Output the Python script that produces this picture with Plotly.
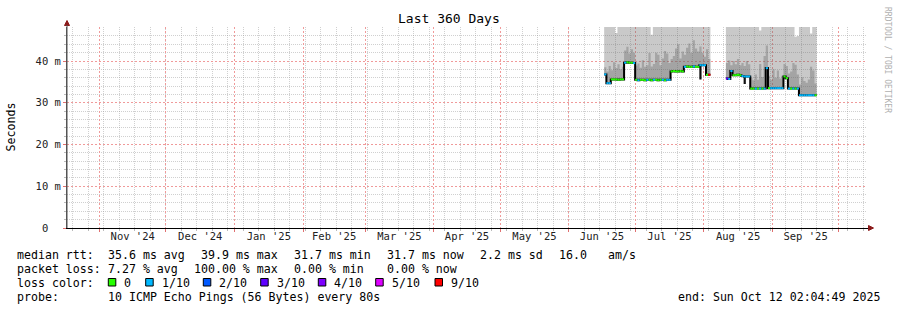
import pandas as pd
import plotly.graph_objects as go

# ---------------- data ----------------
TITLE = "Last 360 Days"
END_TIME = pd.Timestamp("2025-10-12 02:04:49")
SPAN_DAYS = 360

# block 1: daily bins starting 2025-06-17
block1_start = "2025-06-17"
median1 = [36.8, 34.7, 34.7, 35.6, 35.6, 35.6, 35.5, 35.6, 35.6, 39.6, 39.7, 39.6, 39.6, 39.5,
           35.5, 35.4, 35.5, 35.5, 35.4, 35.5, 35.5, 35.4, 35.5, 35.5, 35.4, 35.5, 35.5, 35.4, 35.5, 35.5,
           37.5, 37.6, 37.5, 37.5, 37.6, 37.5,
           38.6, 38.7, 38.6, 38.6, 38.7, 38.6, 38.6,
           39.0, 39.0, 39.0, 36.7, 36.7]
loss1 = [1, 1, 1, 0, 0, 0, 0, 0, 0, 1, 0, 0, 0, 1,
         0, 1, 0, 0, 0, 1, 0, 0, 1, 0, 0, 0, 1, 0, 1, 1,
         0, 0, 0, 0, 0, 0,
         1, 0, 0, 0, 1, 0, 0,
         1, 1, 1, 0, 6]
dark1 = [38.5, 37.5, 38.8, 37.8, 39.7, 38.3, 39.2, 38.0, 38.6, 42.5, 43.4, 41.8, 42.8, 42.0,
         38.9, 39.4, 38.4, 40.2, 38.6, 39.0, 41.9, 38.7, 39.3, 42.0, 41.5, 39.0, 40.6, 42.4, 41.8, 39.5,
         40.5, 41.2, 43.0, 44.0, 40.6, 42.3,
         41.5, 43.2, 44.2, 42.0, 45.0, 43.0, 42.3,
         43.5, 42.0, 41.0, 42.8, 40.5]
top1 = [48.5, 48.5, 48.5, 48.5, 48.5, 46.7, 48.5, 48.5, 48.5, 48.5, 48.5, 48.5, 48.5, 48.5,
        48.5, 48.5, 48.5, 48.5, 48.5, 48.5, 48.5, 46.3, 48.5, 48.5, 48.5, 48.5, 48.5, 48.5, 48.5, 48.5,
        48.5, 48.5, 48.5, 48.5, 48.5, 48.5,
        48.5, 48.5, 48.5, 48.5, 48.5, 48.5, 48.5,
        48.5, 48.5, 48.5, 48.5, 48.5]
low1 = [None] * 43 + [35.6] + [None] * 4

# block 2: daily bins starting 2025-08-11
block2_start = "2025-08-11"
median2 = [35.8, 35.7, 37.6, 36.6, 36.6, 36.7, 36.6, 36.4, 36.3, 36.3, 36.3,
           33.4, 33.4, 33.4, 33.4, 33.4, 33.4, 33.4, 38.3, 33.5, 33.5,
           33.5, 33.5, 33.5, 33.5, 33.5, 36.3, 35.9, 33.4, 33.4, 33.4, 33.4, 33.4,
           31.8, 31.8, 31.8, 31.8, 31.8, 31.8, 31.8, 31.8]
loss2 = [3, 1, 1, 0, 0, 0, 0, 1, 1, 1, 1,
         0, 0, 1, 0, 1, 0, 1, 1, 0, 1,
         1, 1, 1, 1, 1, 0, 0, 1, 0, 1, 0, 1,
         1, 1, 1, 1, 1, 1, 1, 0]
dark2 = [39.5, 40.1, 39.0, 40.0, 39.2, 40.5, 39.0, 39.5, 38.8, 40.0, 39.2,
         36.0, 35.4, 36.8, 35.5, 39.3, 36.2, 41.2, 43.7, 36.5, 35.5,
         38.0, 36.0, 37.7, 35.8, 36.5, 39.3, 38.8, 37.0, 37.5, 39.5, 39.1, 36.8,
         34.4, 36.1, 35.2, 34.8, 35.6, 38.6, 37.7, 34.6]
top2 = [48.5] * 15 + [47.3] + [48.5] * 15 + [45.8, 46.0] + [48.5] * 5 + [46.6] + [48.5] * 2
low2 = [None] * 8 + [34.5] + [None] * 32

loss_colors = ["#26ff00", "#00b8ff", "#0059ff", "#5e00ff", "#7e00ff", "#dd00ff", "#ff0000"]
loss_labels = ["0", "1/10", "2/10", "3/10", "4/10", "5/10", "9/10"]

y_tickvals = [0, 10, 20, 30, 40]
y_ticktext = ["0\u00a0\u00a0", "10 m", "20 m", "30 m", "40 m"]

rtt_items = ["median rtt:", "35.6 ms avg", "39.9 ms max", "31.7 ms min", "31.7 ms now",
             "2.2 ms sd", "16.0", "am/s"]
loss_items = ["packet loss:", "7.27 % avg", "100.00 % max", "0.00 % min", "0.00 % now"]
probe_items = ["probe:", "10 ICMP Echo Pings (56 Bytes) every 80s"]
end_text = "end: Sun Oct 12 02:04:49 2025"

# ---------------- layout geometry ----------------
W, H = 897, 310
ML, MR, MT, MB = 67, 30, 27, 82
PW, PH = W - ML - MR, H - MT - MB
PX_PER_DAY = 2.2134
x_origin = END_TIME - pd.Timedelta(days=SPAN_DAYS)
x0 = x_origin + pd.Timedelta(days=(ML - 66.5) / PX_PER_DAY)
x1 = x0 + pd.Timedelta(days=PW / PX_PER_DAY)
Y_MAX = 48.15

def px(p):
    return (p - ML) / PW

def py(p):
    return (MT + PH - p) / PH

MONO = "DejaVu Sans Mono"
LIGHT = "rgba(100,100,100,0.35)"
DARK = "rgba(100,100,100,0.37)"
fig = go.Figure()

def stepped(start, vals):
    d = list(pd.date_range(start, periods=len(vals) + 1, freq="D"))
    return d, list(vals) + [vals[-1]]

blocks = [(block1_start, median1, loss1, dark1, top1, low1),
          (block2_start, median2, loss2, dark2, top2, low2)]

base = dict(mode="lines", line=dict(width=0, shape="hv"), hoverinfo="skip", showlegend=False)
black_x, black_y = [], []
seg = {i: ([], []) for i in range(len(loss_colors))}
for start, med, loss, dark, top, low in blocks:
    x, m = stepped(start, med)
    _, t = stepped(start, top)
    _, dk = stepped(start, dark)
    _, lo = stepped(start, [l if l is not None else mm for l, mm in zip(low, med)])
    fig.add_trace(go.Scatter(x=x, y=m, **base))
    fig.add_trace(go.Scatter(x=x, y=t, fill="tonexty", fillcolor=LIGHT, **base))
    fig.add_trace(go.Scatter(x=x, y=m, **base))
    fig.add_trace(go.Scatter(x=x, y=dk, fill="tonexty", fillcolor=DARK, **base))
    fig.add_trace(go.Scatter(x=x, y=lo, **base))
    fig.add_trace(go.Scatter(x=x, y=m, fill="tonexty", fillcolor="#111111", **base))
    black_x += x + [None]
    black_y += m + [None]
    for i, (v, c) in enumerate(zip(med, loss)):
        seg[c][0].extend([x[i], x[i + 1], None])
        seg[c][1].extend([v, v, None])

fig.add_trace(go.Scatter(x=black_x, y=black_y, mode="lines", connectgaps=False,
                         line=dict(color="#000000", width=2, shape="hv"),
                         hoverinfo="skip", showlegend=False))
for c, (sx, sy) in seg.items():
    if sx:
        fig.add_trace(go.Scatter(x=sx, y=sy, mode="lines", connectgaps=False,
                                 line=dict(color=loss_colors[c], width=2),
                                 hoverinfo="skip", showlegend=False))

# month label axis
month_starts = pd.date_range("2024-11-01", "2025-10-01", freq="MS")
month_mids = [s + (e - s) / 2 for s, e in zip(month_starts[:-1], month_starts[1:])]
month_text = [m.strftime("%b '%y") for m in month_starts[:-1]]
weeks = pd.date_range("2024-10-20", "2025-10-13", freq="7D")
y_minor = [v for v in range(2, 48, 2) if v % 10]

fig.add_trace(go.Scatter(x=[month_mids[0]], y=[0], xaxis="x2", mode="markers",
                         marker=dict(opacity=0), hoverinfo="skip", showlegend=False))

RED_GRID = "#f09a9a"
GREY_GRID = "rgba(150,150,150,0.45)"
DOTS = "1px,1px"
RDOTS = "2px,2px"

fig.update_layout(
    width=W, height=H,
    margin=dict(l=ML, r=MR, t=MT, b=MB, pad=0),
    paper_bgcolor="white", plot_bgcolor="white",
    font=dict(family=MONO, size=11.6, color="#000"),
    xaxis=dict(type="date", range=[x0, x1], tickmode="array", tickvals=list(month_starts),
               showticklabels=False, ticks="outside", ticklen=3, tickcolor="#e07070",
               showgrid=True, gridcolor=RED_GRID, griddash=RDOTS, gridwidth=1,
               minor=dict(tickmode="array", tickvals=list(weeks), showgrid=True,
                          gridcolor=GREY_GRID, griddash=DOTS, ticks="outside",
                          ticklen=2, tickcolor="#bbbbbb"),
               showline=True, linecolor="#000", linewidth=1, zeroline=False),
    xaxis2=dict(type="date", overlaying="x", matches="x", anchor="y", side="bottom",
                tickmode="array", tickvals=month_mids, ticktext=month_text,
                showgrid=False, ticks="", showline=False, zeroline=False,
                tickfont=dict(family=MONO, size=10.5, color="#222")),
    yaxis=dict(range=[0, Y_MAX], tickmode="array", tickvals=y_tickvals, ticktext=y_ticktext,
               ticks="outside", ticklen=3, tickcolor="#e07070",
               showgrid=True, gridcolor=RED_GRID, griddash=RDOTS, gridwidth=1,
               minor=dict(tickmode="array", tickvals=y_minor, showgrid=True,
                          gridcolor=GREY_GRID, griddash=DOTS, ticks="outside",
                          ticklen=2, tickcolor="#bbbbbb"),
               showline=True, linecolor="#555", linewidth=1, zeroline=False,
               tickfont=dict(family=MONO, size=10.5, color="#222")),
)

ann = []
def text(p_x, p_y, s, anchor="left", size=11.6, color="#000", angle=0, yanchor="middle"):
    ann.append(dict(x=px(p_x), y=py(p_y), xref="paper", yref="paper", text=s,
                    showarrow=False, xanchor=anchor, yanchor=yanchor, textangle=angle,
                    borderpad=0, font=dict(family=MONO, size=size, color=color)))

text(448.5, 19, TITLE, anchor="center", size=13)
text(10, 127.5, "Seconds", anchor="center", angle=-90)
text(888, 60, "RRDTOOL / TOBI OETIKER", anchor="center", size=8, color="#b0b0b0", angle=90)

rtt_x = [16, 107.3, 200, 293.3, 386, 479.3, 558.3, 607.3]
for xx, s in zip(rtt_x, rtt_items):
    text(xx, 255, s.replace(" ", "\u00a0"))
loss_x = [16, 107.3, 193.3, 293.3, 386]
for xx, s in zip(loss_x, loss_items):
    text(xx, 268.7, s.replace(" ", "\u00a0"))
text(16, 282.6, "loss\u00a0color:")
sq_x = [108.3, 145.7, 203.3, 260.7, 318.3, 375.7, 435]
shapes = []
for xx, col, lab in zip(sq_x, loss_colors, loss_labels):
    shapes.append(dict(type="rect", xref="paper", yref="paper",
                       x0=px(xx), x1=px(xx + 7.5), y0=py(286), y1=py(278.5),
                       fillcolor=col, line=dict(color="#000", width=1)))
    text(xx + 15, 282.6, lab)
for xx, s in zip([16, 107.3], probe_items):
    text(xx, 297, s.replace(" ", "\u00a0"))
text(880.5, 297, end_text.replace(" ", "\u00a0"), anchor="right")

# axis arrows
AR = "#8b1a1a"
shapes.append(dict(type="path", xref="paper", yref="paper", fillcolor=AR, line=dict(color=AR, width=1),
                   path=f"M {px(64.5)} {py(25.5)} L {px(69.5)} {py(25.5)} L {px(67)} {py(20.5)} Z"))
shapes.append(dict(type="line", xref="paper", yref="paper", x0=px(67), x1=px(67), y0=py(228), y1=py(25),
                   line=dict(color="#555", width=1)))
shapes.append(dict(type="line", xref="paper", yref="paper", x0=px(67), x1=px(869), y0=py(228.5), y1=py(228.5),
                   line=dict(color="#000", width=1)))
shapes.append(dict(type="path", xref="paper", yref="paper", fillcolor=AR, line=dict(color=AR, width=1),
                   path=f"M {px(868.5)} {py(225.5)} L {px(868.5)} {py(230.5)} L {px(873.5)} {py(228)} Z"))

fig.update_layout(annotations=ann, shapes=shapes)
fig.write_html("out.html")
